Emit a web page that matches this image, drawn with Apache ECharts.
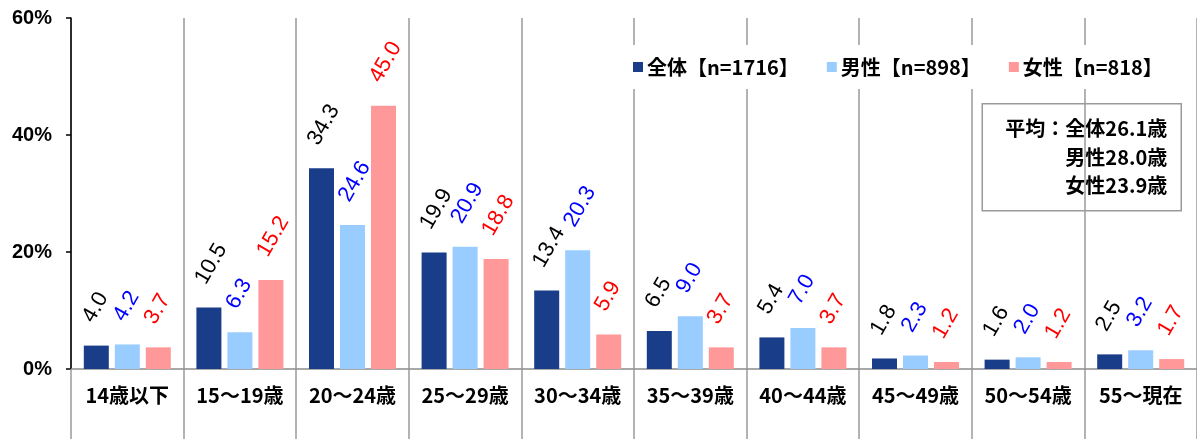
<!DOCTYPE html>
<html>
<head>
<meta charset="utf-8">
<script src="https://cdn.jsdelivr.net/npm/echarts@6/dist/echarts.min.js"></script>
<style>
  html, body { margin: 0; padding: 0; background: #fff; }
  #chart { width: 1197px; height: 439px; }
</style>
</head>
<body>
<div id="chart"></div>
<script>
// 年齢区分
const categories = ['14歳以下', '15～19歳', '20～24歳', '25～29歳', '30～34歳',
                    '35～39歳', '40～44歳', '45～49歳', '50～54歳', '55～現在'];

// 系列名（凡例）
const seriesNames = ['全体【n=1716】', '男性【n=898】', '女性【n=818】'];

// 構成比（%）
const totalValues  = [4.0, 10.5, 34.3, 19.9, 13.4, 6.5, 5.4, 1.8, 1.6, 2.5];
const maleValues   = [4.2, 6.3, 24.6, 20.9, 20.3, 9.0, 7.0, 2.3, 2.0, 3.2];
const femaleValues = [3.7, 15.2, 45.0, 18.8, 5.9, 3.7, 3.7, 1.2, 1.2, 1.7];

// 縦軸目盛り
const yTicks = [0, 20, 40, 60];

// 平均年齢の注記
const averageLines = ['平均：全体26.1歳', '男性28.0歳', '女性23.9歳'];

const barColors   = ['#1A3D8A', '#99CCFF', '#FF9999'];
const labelColors = ['#000000', '#0000FF', '#FF0000'];
const valueSets   = [totalValues, maleValues, femaleValues];

const jpFont = '"Noto Sans CJK JP", "Noto Sans", sans-serif';
const numFont = '"Liberation Sans", Arial, sans-serif';

const chart = echarts.init(document.getElementById('chart'), null, { renderer: 'canvas' });

const series = valueSets.map((vals, i) => ({
  name: seriesNames[i],
  type: 'bar',
  data: vals,
  barWidth: 25,
  barGap: '24%',
  itemStyle: { color: barColors[i] },
  label: {
    show: true,
    position: [4, -25],
    rotate: 60,
    align: 'left',
    verticalAlign: 'middle',
    color: labelColors[i],
    fontFamily: numFont,
    fontSize: 22,
    formatter: p => p.value.toFixed(1)
  },
  emphasis: { disabled: true },
  animation: false
}));

chart.setOption({
  animation: false,
  grid: { left: 71, right: 0, top: 18, bottom: 70, containLabel: false },
  legend: {
    data: seriesNames,
    left: 622,
    top: 45,
    padding: [12, 11],
    backgroundColor: '#ffffff',
    icon: 'rect',
    itemWidth: 10,
    itemHeight: 10,
    itemGap: 28,
    textStyle: { fontFamily: jpFont, fontSize: 20, fontWeight: 'bold', color: '#000', padding: [0, 0, 0, -1] },
    selectedMode: false,
    z: 10
  },
  xAxis: {
    type: 'category',
    data: categories,
    boundaryGap: true,
    axisLine: { lineStyle: { color: '#8c8c8c', width: 1.5 } },
    axisTick: { show: true, interval: 0, length: 70, lineStyle: { color: '#9a9a9a', width: 1.5 } },
    axisLabel: {
      interval: 0,
      margin: 16,
      fontFamily: jpFont,
      fontSize: 20,
      fontWeight: 'bold',
      color: '#000'
    },
    splitLine: { show: true, interval: 0, lineStyle: { color: '#9a9a9a', width: 1.5 } }
  },
  yAxis: {
    type: 'value',
    min: yTicks[0],
    max: yTicks[yTicks.length - 1],
    interval: yTicks[1] - yTicks[0],
    axisLine: { show: true, lineStyle: { color: '#000', width: 1.5 } },
    axisTick: { show: true, inside: false, length: 5, lineStyle: { color: '#000', width: 1.5 } },
    axisLabel: {
      margin: 19,
      formatter: '{value}%',
      fontFamily: numFont,
      fontSize: 20,
      fontWeight: 'bold',
      color: '#000'
    },
    splitLine: { show: false }
  },
  graphic: [{
    type: 'group',
    right: 15,
    top: 103,
    z: 20,
    children: [
      {
        type: 'rect',
        shape: { x: 0, y: 0, width: 199, height: 107 },
        style: { fill: '#ffffff', stroke: '#9a9a9a', lineWidth: 1.5 }
      },
      ...averageLines.map((t, i) => ({
        type: 'text',
        x: 185,
        y: 25 + i * 28.5,
        style: {
          text: t,
          align: 'right',
          verticalAlign: 'middle',
          fontFamily: jpFont,
          fontSize: 20,
          fontWeight: 'bold',
          fill: '#000'
        }
      }))
    ]
  }],
  series: series
});
</script>
</body>
</html>
